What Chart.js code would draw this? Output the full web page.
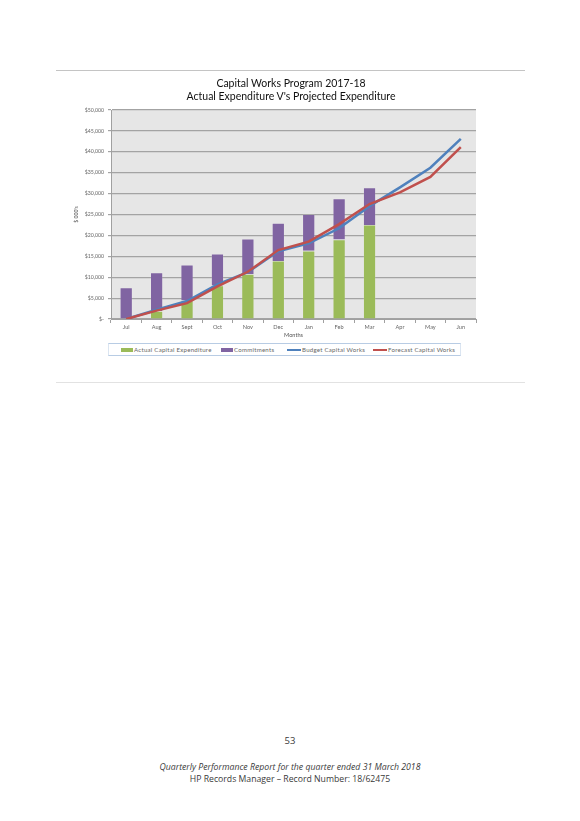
<!DOCTYPE html>
<html>
<head>
<meta charset="utf-8">
<script src="https://cdn.jsdelivr.net/npm/chart.js@4.4.1/dist/chart.umd.min.js"></script>
<style>
  html, body { margin: 0; padding: 0; background: #fff; }
  #page { position: relative; width: 580px; height: 821px; overflow: hidden; background: #fff; }
  .rule { position: absolute; left: 56px; width: 469px; height: 0; }
  #chartTitle {
    position: absolute; left: 56px; top: 77px; width: 470px; text-align: center;
    font-family: Lato, sans-serif; font-size: 10.5px; line-height: 13px; color: #111;
  }
  #chartBox { position: absolute; left: 56px; top: 72px; width: 470px; height: 270px; }
  #legend {
    position: absolute; left: 108px; top: 343px; width: 351px; height: 11px;
    border-top: 1.5px solid #b8cce4; border-bottom: 1.5px solid #b8cce4;
    border-left: 1px solid #dbe5f1; border-right: 1px solid #dbe5f1;
    font-family: Lato, sans-serif; font-size: 6.1px; letter-spacing: 0.25px; color: #666;
  }
  .item { position: absolute; top: 0; height: 11px; line-height: 11px; white-space: nowrap; }
  .sw { display: inline-block; vertical-align: middle; margin-right: 1px; }
  .foot { position: absolute; left: 0; width: 580px; text-align: center; font-family: "Open Sans", sans-serif; color: #3a3a3a; }
</style>
</head>
<body>
<div id="page">
  <div class="rule" style="top:70px; border-top:1px solid #c4c4c4;"></div>
  <div id="chartBox"><canvas id="capitalWorksChart"></canvas></div>
  <div id="chartTitle">Capital Works Program 2017-18<br>Actual Expenditure V's Projected Expenditure</div>
  <div id="legend"></div>
  <div class="rule" style="top:382px; border-top:1px solid #e2e2e2;"></div>
  <div class="foot" style="top:734px; font-size:9.5px;">53</div>
  <div class="foot" style="top:761px; font-size:8.7px; font-style:italic;">Quarterly Performance Report for the quarter ended 31 March 2018</div>
  <div class="foot" style="top:773px; font-size:8.7px;">HP Records Manager – Record Number: 18/62475</div>
</div>
<script>
// Months of the 2017-18 financial year
const months = ['Jul', 'Aug', 'Sept', 'Oct', 'Nov', 'Dec', 'Jan', 'Feb', 'Mar', 'Apr', 'May', 'Jun'];

// $000's
const actualCapital = [0, 1900, 4400, 8000, 10700, 13900, 16300, 19000, 22500, null, null, null];
const commitments = [7500, 9200, 8550, 7550, 8450, 9050, 8700, 9800, 8900, null, null, null];
const budgetCapital = [0, 2200, 4300, 8300, 11200, 16200, 18100, 21700, 27000, 31500, 36200, 43100];
const forecastCapital = [0, 2000, 3800, 7800, 11300, 16500, 18500, 22700, 27500, 30300, 34000, 41100];

const yTicks = [0, 5000, 10000, 15000, 20000, 25000, 30000, 35000, 40000, 45000, 50000];

const seriesNames = ['Actual Capital Expenditure', 'Commitments', 'Budget Capital Works', 'Forecast Capital Works'];
const seriesColors = ['#9bbb59', '#8064a2', '#4f81bd', '#c0504d'];

// grey plot background
const plotBackground = {
    id: 'plotBackground',
    beforeDraw(chart) {
        const a = chart.chartArea;
        const ctx = chart.ctx;
        ctx.save();
        ctx.fillStyle = '#e6e6e6';
        ctx.fillRect(a.left, a.top, a.right - a.left, a.bottom - a.top);
        ctx.restore();
    }
};

const tickFont = { family: 'Lato, sans-serif', size: 5.6 };

new Chart(document.getElementById('capitalWorksChart'), {
    type: 'bar',
    data: {
        labels: months,
        datasets: [
            {
                type: 'line',
                label: seriesNames[3],
                data: forecastCapital,
                borderColor: seriesColors[3],
                borderWidth: 2.5,
                pointRadius: 0,
                tension: 0,
                stack: 'forecast',
                order: 0
            },
            {
                type: 'line',
                label: seriesNames[2],
                data: budgetCapital,
                borderColor: seriesColors[2],
                borderWidth: 2.5,
                pointRadius: 0,
                tension: 0,
                stack: 'budget',
                order: 1
            },
            {
                label: seriesNames[0],
                data: actualCapital,
                backgroundColor: seriesColors[0],
                borderColor: 'rgba(255,255,255,0.25)',
                borderWidth: 0.6,
                stack: 'spend',
                order: 2
            },
            {
                label: seriesNames[1],
                data: commitments,
                backgroundColor: seriesColors[1],
                borderColor: 'rgba(255,255,255,0.25)',
                borderWidth: 0.6,
                stack: 'spend',
                order: 2
            }
        ]
    },
    options: {
        responsive: true,
        maintainAspectRatio: false,
        animation: false,
        datasets: {
            bar: { categoryPercentage: 1, barPercentage: 0.41 }
        },
        layout: { padding: { left: 17, right: 50, top: 38, bottom: 0 } },
        scales: {
            x: {
                grid: {
                    offset: true,
                    drawOnChartArea: false,
                    drawTicks: true,
                    tickLength: 4,
                    color: '#a0a0a0'
                },
                border: { color: '#a0a0a0', width: 1 },
                ticks: { font: tickFont, color: '#666', padding: 1, maxRotation: 0, autoSkip: false },
                title: { display: true, text: 'Months', font: tickFont, color: '#555', padding: { top: 1, bottom: 3 } },
                afterFit(scale) { scale.height = 23; }
            },
            y: {
                stacked: true,
                min: 0,
                max: 50000,
                afterBuildTicks(scale) { scale.ticks = yTicks.map(v => ({ value: v })); },
                grid: { color: '#a3a3a3', lineWidth: 1.2, tickLength: 3 },
                border: { color: '#a0a0a0', width: 1 },
                ticks: {
                    font: { family: 'Lato, sans-serif', size: 5.2 },
                    color: '#666',
                    padding: 4,
                    callback: v => v === 0 ? '$-' : '$' + v.toLocaleString('en-US')
                },
                title: { display: true, text: "$ 000's", font: { family: 'Lato, sans-serif', size: 5.2 }, color: '#555', padding: 0 },
                afterFit(scale) { scale.width = 38; }
            }
        },
        plugins: {
            legend: { display: false },
            tooltip: { enabled: false },
            title: { display: false }
        }
    },
    plugins: [plotBackground]
});

// legend built from the series names
const legend = document.getElementById('legend');
const legendX = [12, 112, 178, 264];
seriesNames.forEach((name, i) => {
    const item = document.createElement('div');
    item.className = 'item';
    item.style.left = legendX[i] + 'px';
    const sw = document.createElement('span');
    sw.className = 'sw';
    const isLine = i >= 2;
    sw.style.width = (isLine ? 14 : 12) + 'px';
    sw.style.height = (isLine ? 2 : 4) + 'px';
    sw.style.background = seriesColors[i];
    item.appendChild(sw);
    item.appendChild(document.createTextNode(name));
    legend.appendChild(item);
});
</script>
</body>
</html>
